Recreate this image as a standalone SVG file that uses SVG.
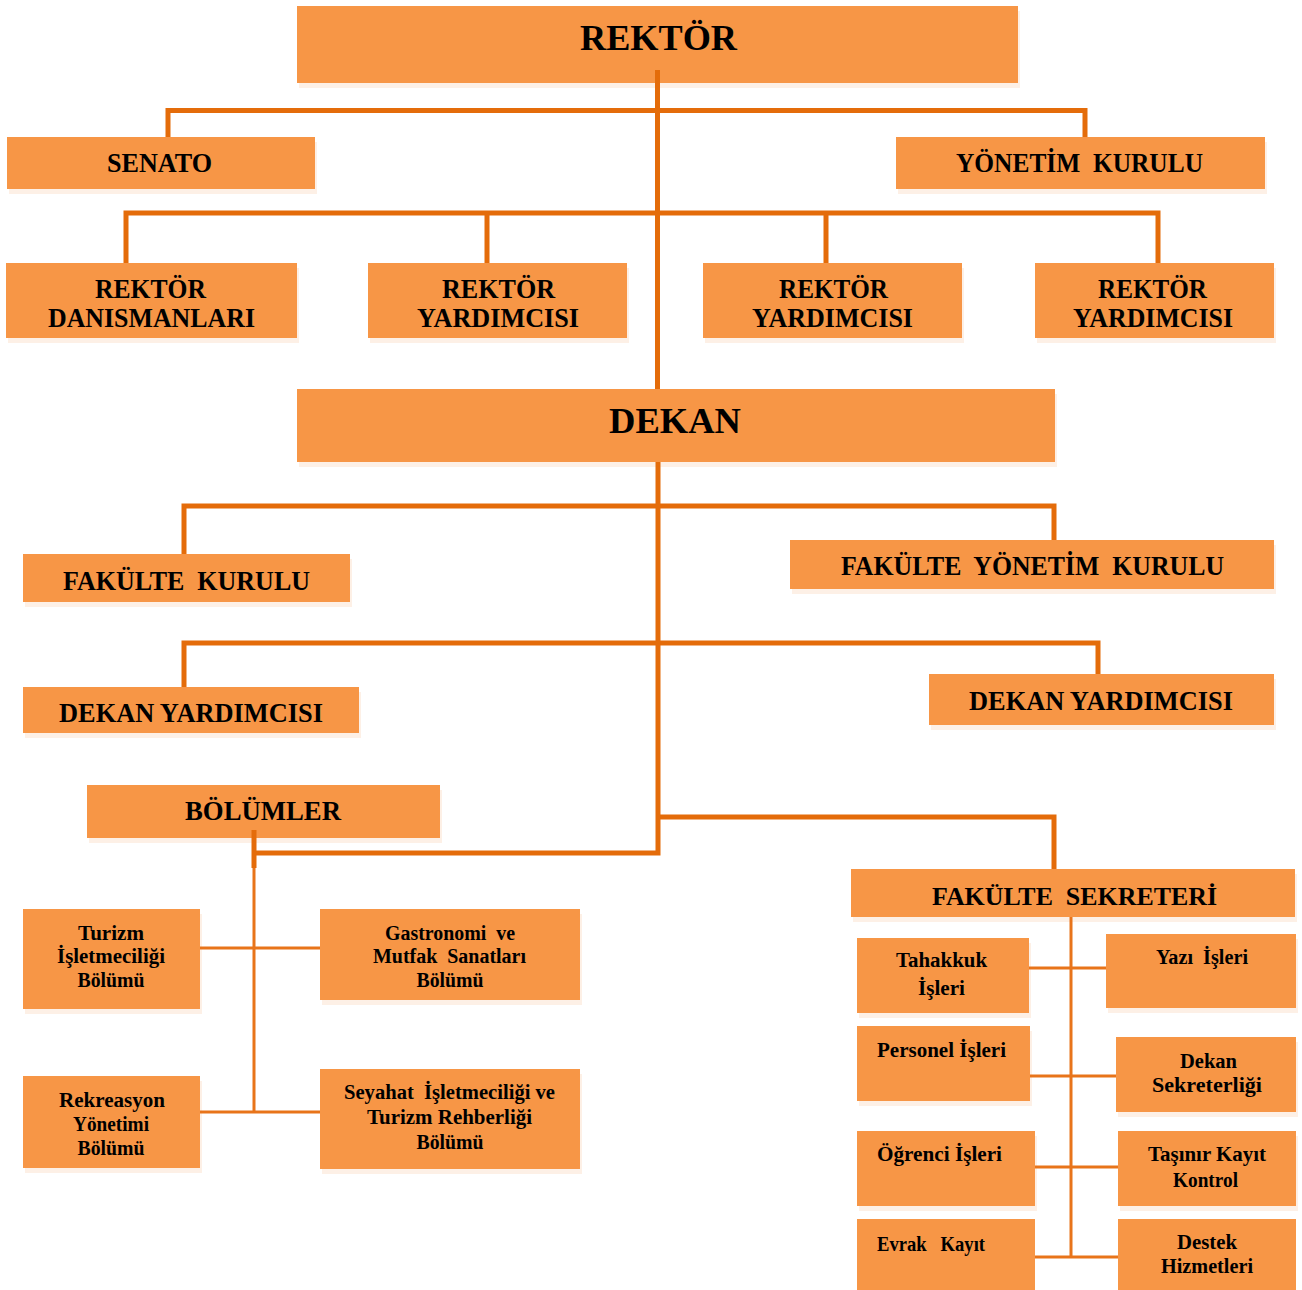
<svg xmlns="http://www.w3.org/2000/svg" width="1302" height="1290" viewBox="0 0 1302 1290">
<style>
.b{fill:#F79646}
.s{fill:#FDF0E6}
text{font-family:"Liberation Serif","Times New Roman",serif;font-weight:bold;fill:#000;text-anchor:middle;white-space:pre}
.t36{font-size:36px}
.t27{font-size:27px}
.t26{font-size:26px}
.t20{font-size:20px}
.l{text-anchor:start}
.c{fill:none;stroke:#E46C0A;stroke-width:5}
.ct{fill:none;stroke:#E8741A;stroke-width:3}
</style>
<rect width="1302" height="1290" fill="#fff"/>
<g id="shadows">
<rect class="s" x="299" y="11" width="721" height="77"/>
<rect class="s" x="9" y="142" width="308" height="52"/>
<rect class="s" x="898" y="142" width="369" height="52"/>
<rect class="s" x="8" y="268" width="291" height="75"/>
<rect class="s" x="370" y="268" width="259" height="75"/>
<rect class="s" x="705" y="268" width="259" height="75"/>
<rect class="s" x="1037" y="268" width="239" height="75"/>
<rect class="s" x="299" y="394" width="758" height="73"/>
<rect class="s" x="25" y="559" width="327" height="48"/>
<rect class="s" x="792" y="545" width="484" height="49"/>
<rect class="s" x="25" y="692" width="336" height="46"/>
<rect class="s" x="931" y="679" width="345" height="51"/>
<rect class="s" x="89" y="790" width="353" height="53"/>
<rect class="s" x="25" y="914" width="177" height="100"/>
<rect class="s" x="322" y="914" width="260" height="91"/>
<rect class="s" x="25" y="1081" width="177" height="92"/>
<rect class="s" x="322" y="1074" width="260" height="100"/>
<rect class="s" x="853" y="874" width="444" height="48"/>
<rect class="s" x="859" y="943" width="172" height="75"/>
<rect class="s" x="1108" y="939" width="190" height="74"/>
<rect class="s" x="859" y="1031" width="173" height="75"/>
<rect class="s" x="1118" y="1042" width="180" height="75"/>
<rect class="s" x="859" y="1136" width="178" height="75"/>
<rect class="s" x="1120" y="1136" width="178" height="75"/>
</g>
<g id="rektor"><rect class="b" x="297" y="6" width="721" height="77"/><text class="t36" x="658.5" y="50" textLength="157" lengthAdjust="spacingAndGlyphs">REKTÖR</text></g>
<g id="senato"><rect class="b" x="7" y="137" width="308" height="52"/><text class="t27" x="159.5" y="172" textLength="105" lengthAdjust="spacingAndGlyphs">SENATO</text></g>
<g id="yonetim-kurulu"><rect class="b" x="896" y="137" width="369" height="52"/><text class="t27" x="1079.5" y="172" textLength="247" lengthAdjust="spacingAndGlyphs">YÖNETİM  KURULU</text></g>
<g id="rektor-danismanlari"><rect class="b" x="6" y="263" width="291" height="75"/><text class="t27" x="150.5" y="298" textLength="111" lengthAdjust="spacingAndGlyphs">REKTÖR</text><text class="t27" x="151.5" y="327" textLength="207" lengthAdjust="spacingAndGlyphs">DANISMANLARI</text></g>
<g id="rektor-yardimcisi-1"><rect class="b" x="368" y="263" width="259" height="75"/><text class="t27" x="498.5" y="298" textLength="113" lengthAdjust="spacingAndGlyphs">REKTÖR</text><text class="t27" x="498" y="327" textLength="162" lengthAdjust="spacingAndGlyphs">YARDIMCISI</text></g>
<g id="rektor-yardimcisi-2"><rect class="b" x="703" y="263" width="259" height="75"/><text class="t27" x="833.5" y="298" textLength="109" lengthAdjust="spacingAndGlyphs">REKTÖR</text><text class="t27" x="832.5" y="327" textLength="161" lengthAdjust="spacingAndGlyphs">YARDIMCISI</text></g>
<g id="rektor-yardimcisi-3"><rect class="b" x="1035" y="263" width="239" height="75"/><text class="t27" x="1152.5" y="298" textLength="109" lengthAdjust="spacingAndGlyphs">REKTÖR</text><text class="t27" x="1153" y="327" textLength="160" lengthAdjust="spacingAndGlyphs">YARDIMCISI</text></g>
<g id="dekan"><rect class="b" x="297" y="389" width="758" height="73"/><text class="t36" x="675" y="433" textLength="132" lengthAdjust="spacingAndGlyphs">DEKAN</text></g>
<g id="fakulte-kurulu"><rect class="b" x="23" y="554" width="327" height="48"/><text class="t27" x="186.5" y="590" textLength="247" lengthAdjust="spacingAndGlyphs">FAKÜLTE  KURULU</text></g>
<g id="fakulte-yonetim-kurulu"><rect class="b" x="790" y="540" width="484" height="49"/><text class="t27" x="1032.5" y="575" textLength="383" lengthAdjust="spacingAndGlyphs">FAKÜLTE  YÖNETİM  KURULU</text></g>
<g id="dekan-yardimcisi-1"><rect class="b" x="23" y="687" width="336" height="46"/><text class="t27" x="191" y="722" textLength="264" lengthAdjust="spacingAndGlyphs">DEKAN YARDIMCISI</text></g>
<g id="dekan-yardimcisi-2"><rect class="b" x="929" y="674" width="345" height="51"/><text class="t27" x="1101" y="710" textLength="264" lengthAdjust="spacingAndGlyphs">DEKAN YARDIMCISI</text></g>
<g id="bolumler"><rect class="b" x="87" y="785" width="353" height="53"/><text class="t27" x="263" y="820" textLength="156" lengthAdjust="spacingAndGlyphs">BÖLÜMLER</text></g>
<g id="turizm-isletmeciligi"><rect class="b" x="23" y="909" width="177" height="100"/><text class="t20" x="111" y="940" textLength="66" lengthAdjust="spacingAndGlyphs">Turizm</text><text class="t20" x="111" y="963" textLength="108" lengthAdjust="spacingAndGlyphs">İşletmeciliği</text><text class="t20" x="111" y="987" textLength="67" lengthAdjust="spacingAndGlyphs">Bölümü</text></g>
<g id="gastronomi"><rect class="b" x="320" y="909" width="260" height="91"/><text class="t20" x="450" y="940" textLength="130" lengthAdjust="spacingAndGlyphs">Gastronomi  ve</text><text class="t20" x="449.5" y="963" textLength="153" lengthAdjust="spacingAndGlyphs">Mutfak  Sanatları</text><text class="t20" x="450" y="987" textLength="67" lengthAdjust="spacingAndGlyphs">Bölümü</text></g>
<g id="rekreasyon"><rect class="b" x="23" y="1076" width="177" height="92"/><text class="t20" x="112" y="1107" textLength="106" lengthAdjust="spacingAndGlyphs">Rekreasyon</text><text class="t20" x="111" y="1131" textLength="76" lengthAdjust="spacingAndGlyphs">Yönetimi</text><text class="t20" x="111" y="1155" textLength="67" lengthAdjust="spacingAndGlyphs">Bölümü</text></g>
<g id="seyahat"><rect class="b" x="320" y="1069" width="260" height="100"/><text class="t20" x="449.5" y="1099" textLength="211" lengthAdjust="spacingAndGlyphs">Seyahat  İşletmeciliği ve</text><text class="t20" x="449.5" y="1124" textLength="165" lengthAdjust="spacingAndGlyphs">Turizm Rehberliği</text><text class="t20" x="450" y="1149" textLength="67" lengthAdjust="spacingAndGlyphs">Bölümü</text></g>
<g id="fakulte-sekreteri"><rect class="b" x="851" y="869" width="444" height="48"/><text class="t26" x="1074.5" y="905" textLength="285" lengthAdjust="spacingAndGlyphs">FAKÜLTE  SEKRETERİ</text></g>
<g id="tahakkuk"><rect class="b" x="857" y="938" width="172" height="75"/><text class="t20" x="941.5" y="967" textLength="91" lengthAdjust="spacingAndGlyphs">Tahakkuk</text><text class="t20" x="941.5" y="995" textLength="47" lengthAdjust="spacingAndGlyphs">İşleri</text></g>
<g id="yazi-isleri"><rect class="b" x="1106" y="934" width="190" height="74"/><text class="t20" x="1202" y="964" textLength="92" lengthAdjust="spacingAndGlyphs">Yazı  İşleri</text></g>
<g id="personel-isleri"><rect class="b" x="857" y="1026" width="173" height="75"/><text class="t20 l" x="877" y="1057" textLength="129" lengthAdjust="spacingAndGlyphs">Personel İşleri</text></g>
<g id="dekan-sekreterligi"><rect class="b" x="1116" y="1037" width="180" height="75"/><text class="t20" x="1208.5" y="1068" textLength="57" lengthAdjust="spacingAndGlyphs">Dekan</text><text class="t20" x="1207" y="1092" textLength="110" lengthAdjust="spacingAndGlyphs">Sekreterliği</text></g>
<g id="ogrenci-isleri"><rect class="b" x="857" y="1131" width="178" height="75"/><text class="t20 l" x="877" y="1161" textLength="125" lengthAdjust="spacingAndGlyphs">Öğrenci İşleri</text></g>
<g id="tasinir-kayit"><rect class="b" x="1118" y="1131" width="178" height="75"/><text class="t20" x="1207" y="1161" textLength="118" lengthAdjust="spacingAndGlyphs">Taşınır Kayıt</text><text class="t20" x="1205.5" y="1187" textLength="65" lengthAdjust="spacingAndGlyphs">Kontrol</text></g>
<g id="evrak-kayit"><rect class="b" x="857" y="1219" width="178" height="71"/><text class="t20 l" x="877" y="1251" textLength="108" lengthAdjust="spacingAndGlyphs">Evrak   Kayıt</text></g>
<g id="destek-hizmetleri"><rect class="b" x="1118" y="1219" width="178" height="71"/><text class="t20" x="1207" y="1249" textLength="60" lengthAdjust="spacingAndGlyphs">Destek</text><text class="t20" x="1207" y="1273" textLength="92" lengthAdjust="spacingAndGlyphs">Hizmetleri</text></g>
<g id="connectors">
<path class="c" d="M657.5 70V389"/>
<path class="c" d="M168 137V110.5H1085V137"/>
<path class="c" d="M126 263V213H1158V263M487 213V263M826 213V263"/>
<path class="c" d="M658 462V853H254M254 830V868"/>
<path class="c" d="M184 554V506H1054V540"/>
<path class="c" d="M184 687V643H1098V674"/>
<path class="c" d="M658 817H1054V869"/>
<path class="ct" d="M254 868V1112M200 948H320M200 1112H320"/>
<path class="ct" d="M1071 917V1257M1029 968H1106M1030 1076H1116M1035 1167H1118M1035 1257H1118"/>
</g>
</svg>
